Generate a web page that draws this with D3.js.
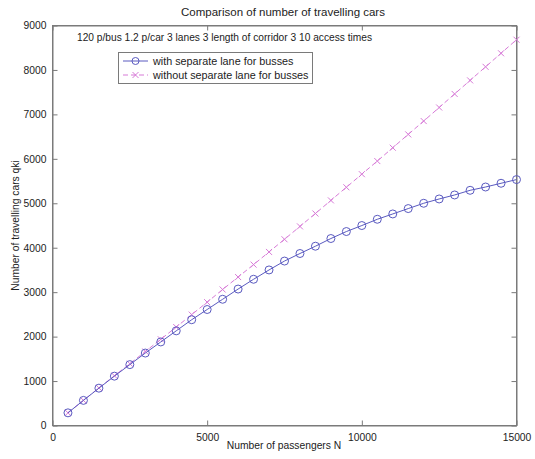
<!DOCTYPE html>
<html>
<head>
<meta charset="utf-8">
<script src="https://cdn.jsdelivr.net/npm/d3@7"></script>
<style>
  html, body { margin: 0; padding: 0; background: #fff; }
  svg { display: block; font-family: "Liberation Sans", Arial, sans-serif; }
</style>
</head>
<body>
<svg id="chart" width="535" height="459"></svg>
<script>
// ---- data ----
const passengers = [500, 1000, 1500, 2000, 2500, 3000, 3500, 4000, 4500, 5000,
  5500, 6000, 6500, 7000, 7500, 8000, 8500, 9000, 9500, 10000,
  10500, 11000, 11500, 12000, 12500, 13000, 13500, 14000, 14500, 15000];
const withLane = [285, 565, 840, 1110, 1370, 1630, 1880, 2130, 2380, 2610,
  2840, 3070, 3290, 3500, 3700, 3870, 4034, 4207, 4364, 4499,
  4640, 4760, 4881, 5000, 5097, 5187, 5292, 5366, 5450, 5533];
const withoutLane = [285, 565, 845, 1120, 1390, 1665, 1940, 2215, 2495, 2775,
  3060, 3340, 3620, 3905, 4190, 4480, 4770, 5065, 5360, 5655,
  5950, 6250, 6550, 6850, 7155, 7460, 7765, 8070, 8375, 8680];
const seriesNames = ["with separate lane for busses", "without separate lane for busses"];
const xTicks = [0, 5000, 10000, 15000];
const yTicks = [0, 1000, 2000, 3000, 4000, 5000, 6000, 7000, 8000, 9000];
const titleText = "Comparison of number of travelling cars";
const noteText = "120 p/bus 1.2 p/car 3 lanes 3 length of corridor 3 10 access times";
const xLabel = "Number of passengers N";
const yLabel = "Number of travelling cars qki";

// ---- layout ----
const L = 52.5, R = 516.5, T = 25.5, B = 425.5;
const axisColor = "#7a7a7a";
const textColor = "#222";
const c1 = "#5a5ac0";
const c2 = "#d77ad7";
const font = "Liberation Sans, Arial, sans-serif";

const svg = d3.select("#chart");
const x = d3.scaleLinear().domain([0, 15000]).range([L, R]);
const y = d3.scaleLinear().domain([0, 9000]).range([B, T]);

// box
svg.append("rect").attr("x", L).attr("y", T).attr("width", R - L).attr("height", B - T)
  .attr("fill", "none").attr("stroke", axisColor).attr("stroke-width", 1);

// axes
const fmt = d3.format("d");
const gx = svg.append("g").attr("transform", `translate(0,${B})`)
  .call(d3.axisBottom(x).tickValues(xTicks).tickFormat(fmt).tickSizeInner(-5).tickSizeOuter(0).tickPadding(8));
const gxt = svg.append("g").attr("transform", `translate(0,${T})`)
  .call(d3.axisTop(x).tickValues(xTicks).tickFormat("").tickSizeInner(-5).tickSizeOuter(0));
const gy = svg.append("g").attr("transform", `translate(${L},0)`)
  .call(d3.axisLeft(y).tickValues(yTicks).tickFormat(fmt).tickSizeInner(-5).tickSizeOuter(0).tickPadding(6));
const gyr = svg.append("g").attr("transform", `translate(${R},0)`)
  .call(d3.axisRight(y).tickValues(yTicks).tickFormat("").tickSizeInner(-5).tickSizeOuter(0));
[gx, gxt, gy, gyr].forEach(g => {
  g.select(".domain").attr("stroke", axisColor);
  g.selectAll(".tick line").attr("stroke", axisColor);
  g.selectAll("text").attr("fill", textColor).attr("font-size", 10.3)
    .attr("font-family", font);
});

// series data
const d1 = passengers.map((p, i) => ({ x: p, y: withLane[i] }));
const d2 = passengers.map((p, i) => ({ x: p, y: withoutLane[i] }));
const line = d3.line().x(d => x(d.x)).y(d => y(d.y));

// dashed series (without lane)
svg.append("path").datum(d2).attr("d", line).attr("fill", "none")
  .attr("stroke", c2).attr("stroke-width", 1).attr("stroke-dasharray", "5,3");
const xm = 3;
svg.append("g").selectAll("path").data(d2).join("path")
  .attr("d", d => `M${x(d.x) - xm},${y(d.y) - xm}L${x(d.x) + xm},${y(d.y) + xm}M${x(d.x) - xm},${y(d.y) + xm}L${x(d.x) + xm},${y(d.y) - xm}`)
  .attr("stroke", c2).attr("stroke-width", 1).attr("fill", "none");

// solid series (with lane)
svg.append("path").datum(d1).attr("d", line).attr("fill", "none")
  .attr("stroke", c1).attr("stroke-width", 1);
svg.append("g").selectAll("circle").data(d1).join("circle")
  .attr("cx", d => x(d.x)).attr("cy", d => y(d.y)).attr("r", 4)
  .attr("fill", "none").attr("stroke", c1).attr("stroke-width", 1);

// title & texts
svg.append("text").attr("x", 283).attr("y", 16).attr("text-anchor", "middle")
  .attr("font-size", 11.5).attr("fill", textColor).text(titleText);
svg.append("text").attr("x", 77).attr("y", 41).attr("font-size", 10.2).attr("fill", textColor).text(noteText);
svg.append("text").attr("x", 284).attr("y", 449).attr("text-anchor", "middle")
  .attr("font-size", 10.3).attr("fill", textColor).text(xLabel);
svg.append("text").attr("transform", `translate(19,${(T + B) / 2}) rotate(-90)`).attr("text-anchor", "middle")
  .attr("font-size", 10.3).attr("fill", textColor).text(yLabel);

// legend
const lg = svg.append("g");
lg.append("rect").attr("x", 118.5).attr("y", 52.5).attr("width", 194).attr("height", 31)
  .attr("fill", "#fff").attr("stroke", axisColor);
const rows = [{ name: seriesNames[0], color: c1, dash: null, m: "o", yy: 61 },
              { name: seriesNames[1], color: c2, dash: "5,3", m: "x", yy: 75 }];
rows.forEach(r => {
  lg.append("line").attr("x1", 123).attr("x2", 148).attr("y1", r.yy).attr("y2", r.yy)
    .attr("stroke", r.color).attr("stroke-dasharray", r.dash);
  if (r.m === "o") {
    lg.append("circle").attr("cx", 135.5).attr("cy", r.yy).attr("r", 3.5).attr("fill", "none").attr("stroke", r.color);
  } else {
    lg.append("path").attr("d", `M132.5,${r.yy - 3}L138.5,${r.yy + 3}M132.5,${r.yy + 3}L138.5,${r.yy - 3}`).attr("stroke", r.color);
  }
  lg.append("text").attr("x", 153).attr("y", r.yy + 4).attr("font-size", 10.8).attr("fill", textColor).text(r.name);
});
</script>
</body>
</html>
